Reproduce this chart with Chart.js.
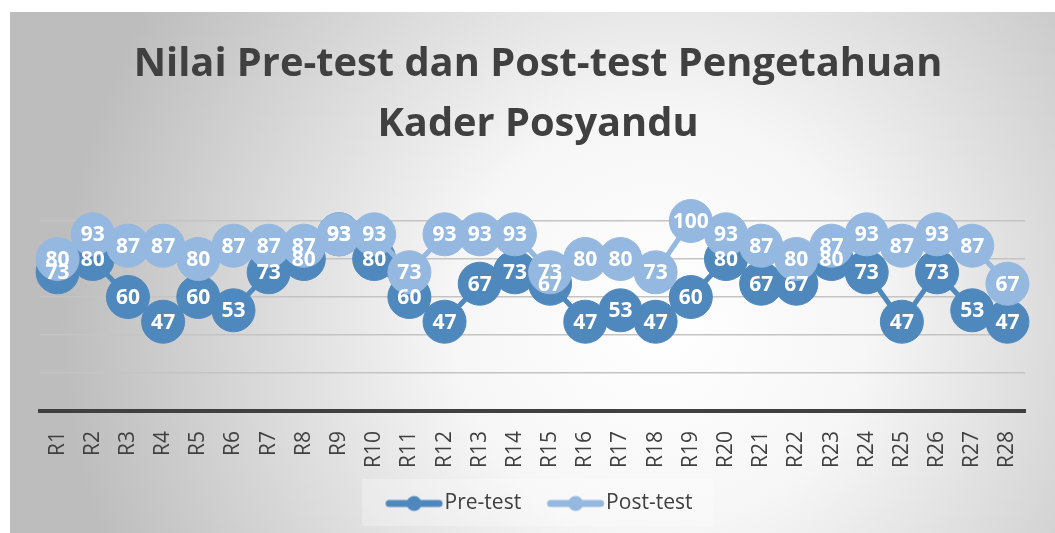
<!DOCTYPE html>
<html>
<head>
<meta charset="utf-8">
<script src="https://cdn.jsdelivr.net/npm/chart.js@4.4.1/dist/chart.umd.min.js"></script>
<style>
  html, body { margin: 0; padding: 0; background: #fff; }
  #wrap { position: relative; width: 1055px; height: 533px; }
</style>
</head>
<body>
<div id="wrap"><canvas id="chartScores" width="1055" height="533"></canvas></div>
<script>
// Data
const respondents = ["R1","R2","R3","R4","R5","R6","R7","R8","R9","R10","R11","R12","R13","R14",
  "R15","R16","R17","R18","R19","R20","R21","R22","R23","R24","R25","R26","R27","R28"];
const preTest  = [73,80,60,47,60,53,73,80,93,80,60,47,67,73,67,47,53,47,60,80,67,67,80,73,47,73,53,47];
const postTest = [80,93,87,87,80,87,87,87,93,93,73,93,93,93,73,80,80,73,100,93,87,80,87,93,87,93,87,67];
const yTicks = [0, 20, 40, 60, 80, 100];
const titleLines = ['Nilai Pre-test dan Post-test Pengetahuan', 'Kader Posyandu'];

const preColor = '#4f88bd';
const postColor = '#95b8e0';
const textColor = '#404040';

// Background: white strip + radial gray gradient panel, title, legend backdrop
const bgPlugin = {
  id: 'bg',
  beforeDraw(chart) {
    const { ctx, width, height } = chart;
    ctx.save();
    ctx.fillStyle = '#fff';
    ctx.fillRect(0, 0, width, height);
    const g = ctx.createRadialGradient(660, 320, 0, 660, 320, 600);
    g.addColorStop(0, '#ffffff');
    g.addColorStop(0.35, '#f6f6f6');
    g.addColorStop(1, '#bdbdbd');
    ctx.fillStyle = g;
    ctx.fillRect(10, 12, width - 10, height - 12);
    // legend backdrop
    const lg = chart.legend;
    if (lg) {
      const cy = (lg.top + lg.bottom) / 2;
      ctx.fillStyle = 'rgba(255,255,255,0.28)';
      ctx.fillRect(362, cy - 23, 351, 47);
    }
    // title
    ctx.font = 'bold 39.8px "Open Sans"';
    ctx.fillStyle = textColor;
    ctx.textAlign = 'center';
    ctx.textBaseline = 'middle';
    titleLines.forEach((t, i) => ctx.fillText(t, 538, 65 + i * 60));
    ctx.restore();
  }
};

// Value labels inside the markers (drawn after all series)
const labelPlugin = {
  id: 'valueLabels',
  afterDatasetsDraw(chart) {
    const { ctx } = chart;
    ctx.save();
    ctx.font = 'bold 21px "Open Sans"';
    ctx.fillStyle = '#fff';
    ctx.textAlign = 'center';
    ctx.textBaseline = 'middle';
    chart.data.datasets.forEach((ds, i) => {
      chart.getDatasetMeta(i).data.forEach((pt, j) => {
        ctx.fillText(ds.data[j], pt.x, pt.y + 1);
      });
    });
    ctx.restore();
  }
};

// legend marker: line with a dot, offset right inside a wider image
const legendMarker = (color) => {
  const c = document.createElement('canvas');
  c.width = 80; c.height = 18;
  const x = c.getContext('2d');
  x.strokeStyle = color; x.lineWidth = 7; x.lineCap = 'round';
  x.beginPath(); x.moveTo(25.75, 9); x.lineTo(75.75, 9); x.stroke();
  x.fillStyle = color;
  x.beginPath(); x.arc(50.75, 9, 7.5, 0, Math.PI * 2); x.fill();
  return c;
};
const markers = [legendMarker(preColor), legendMarker(postColor)];

const ctx = document.getElementById('chartScores').getContext('2d');
new Chart(ctx, {
  type: 'line',
  data: {
    labels: respondents,
    datasets: [
      { label: 'Pre-test', data: preTest, borderColor: preColor, backgroundColor: preColor,
        borderWidth: 5, pointRadius: 21.5, pointBorderWidth: 1, pointBackgroundColor: preColor,
        pointBorderColor: preColor, order: 2, clip: false },
      { label: 'Post-test', data: postTest, borderColor: postColor, backgroundColor: postColor,
        borderWidth: 5, pointRadius: 21.5, pointBorderWidth: 1, pointBackgroundColor: postColor,
        pointBorderColor: postColor, order: 1, clip: false }
    ]
  },
  options: {
    responsive: false,
    animation: false,
    layout: { padding: { top: 221, left: 40, right: 30, bottom: 9 } },
    plugins: {
      tooltip: { enabled: false },
      title: { display: false },
      legend: {
        position: 'bottom',
        labels: {
          color: textColor,
          font: { family: '"Open Sans"', size: 21 },
          usePointStyle: true,
          pointStyleWidth: 61.5,
          padding: 13,
          sort: (a, b) => a.datasetIndex - b.datasetIndex,
          generateLabels(chart) {
            return chart.data.datasets.map((ds, i) => ({
              text: ds.label, datasetIndex: i, pointStyle: markers[i],
              fontColor: textColor, hidden: false, lineWidth: 0
            }));
          }
        }
      }
    },
    scales: {
      x: {
        offset: true,
        grid: { display: false },
        border: { color: '#404040', width: 4 },
        ticks: { color: textColor, font: { family: '"Open Sans"', size: 21 },
          maxRotation: 90, minRotation: 90, padding: 12 }
      },
      y: {
        min: 0, max: 100,
        afterBuildTicks: (scale) => { scale.ticks = yTicks.map(v => ({ value: v })); },
        ticks: { display: false },
        border: { display: false },
        grid: { color: '#c4c4c4', lineWidth: 1.5, drawTicks: false }
      }
    }
  },
  plugins: [bgPlugin, labelPlugin]
});
</script>
</body>
</html>
